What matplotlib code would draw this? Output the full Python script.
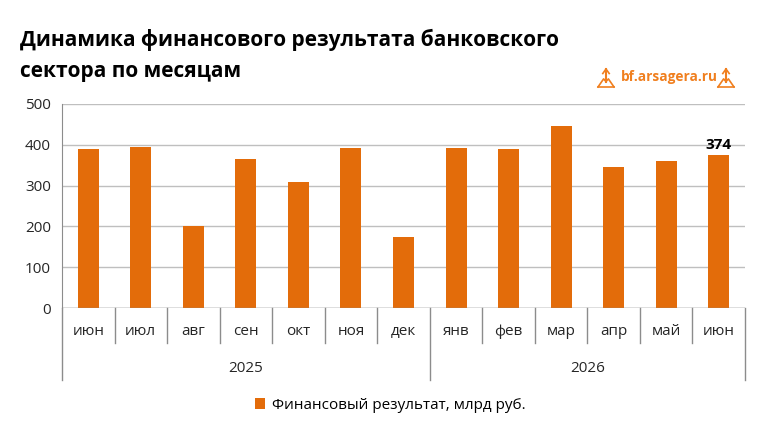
import matplotlib
matplotlib.use("Agg")
import matplotlib.pyplot as plt
import matplotlib.transforms as mtransforms

plt.rcParams['font.family'] = ['Open Sans', 'DejaVu Sans']

months = ['июн', 'июл', 'авг', 'сен', 'окт', 'ноя', 'дек',
          'янв', 'фев', 'мар', 'апр', 'май', 'июн']
years = ['2025', '2026']
year_sizes = [7, 6]
values = [390, 395, 201, 365, 309, 392, 174, 392, 390, 446, 346, 361, 374]

bar_color = '#E36C0A'
grid_color = '#BFBFBF'
axis_color = '#8C8C8C'
logo_color = '#F07F1E'

fig = plt.figure(figsize=(7.59, 4.36), dpi=100)
ax = fig.add_axes([62/759, 1-308/436, (745-62)/759, (308-104)/436])

x = list(range(len(months)))
ax.bar(x, values, width=0.4, color=bar_color, zorder=3,
       label='Финансовый результат, млрд руб.')
ax.set_xlim(-0.5, len(months) - 0.5)
ax.set_ylim(0, 500)
ax.set_yticks([0, 100, 200, 300, 400, 500])
ax.yaxis.grid(True, color=grid_color, linewidth=1, zorder=0)
ax.tick_params(axis='y', length=0, labelsize=11, colors='#262626', pad=8)
ax.set_xticks([])
for s in ['top', 'right', 'bottom']:
    ax.spines[s].set_visible(False)
ax.spines['left'].set_color(axis_color)
ax.axhline(0, color=axis_color, linewidth=1, zorder=4)

# data label on last bar
ax.text(x[-1], values[-1] + 8, str(values[-1]), ha='center', va='bottom',
        fontsize=11, fontweight='bold', color='#000000')

# category axis: month row and year row with separators
trans = mtransforms.blended_transform_factory(ax.transData, ax.transAxes)
month_row = -35/204
year_row = -72/204
for i, m in enumerate(months):
    ax.text(i, -23/204, m, transform=trans, ha='center', va='center',
            fontsize=11, color='#262626')
boundaries = [0]
for n in year_sizes:
    boundaries.append(boundaries[-1] + n)
for i in range(len(months) + 1):
    bottom = year_row if i in boundaries else month_row
    ax.plot([i - 0.5, i - 0.5], [0, bottom], transform=trans,
            color=axis_color, linewidth=1, clip_on=False)
for k, yr in enumerate(years):
    c = (boundaries[k] + boundaries[k+1] - 1) / 2
    ax.text(c, -60/204, yr, transform=trans, ha='center', va='center',
            fontsize=11, color='#262626')

# title
fig.text(20/759, 1-40/436, 'Динамика финансового результата банковского',
         fontsize=15, fontweight='bold', ha='left', va='center', color='#000000')
fig.text(20/759, 1-72/436, 'сектора по месяцам',
         fontsize=15, fontweight='bold', ha='left', va='center', color='#000000')

# logo
fig.text(669/759, 1-77/436, 'bf.arsagera.ru', fontsize=9.8, fontweight='bold',
         ha='center', va='center', color=logo_color)
for cx in [606, 726]:
    fx, fy = cx/759, 1-78/436
    dx, dy = 8/759, 9/436
    fig.add_artist(plt.Line2D([fx, fx], [fy - dy*0.4, fy + dy], color=logo_color, lw=1.5))
    fig.add_artist(plt.Line2D([fx - dx*0.4, fx, fx + dx*0.4], [fy + dy*0.5, fy + dy, fy + dy*0.5],
                              color=logo_color, lw=1.2))
    fig.add_artist(plt.Line2D([fx - dx, fx - dx*0.3, fx, fx + dx*0.3, fx + dx],
                              [fy - dy, fy - dy*0.1, fy - dy*0.4, fy - dy*0.1, fy - dy],
                              color=logo_color, lw=1.2))
    fig.add_artist(plt.Line2D([fx - dx, fx + dx], [fy - dy, fy - dy],
                              color=logo_color, lw=1.2))

# legend
leg = fig.legend(loc='center', bbox_to_anchor=(390/759, 1-405/436), frameon=False,
                 fontsize=11, handlelength=0.7, handleheight=0.7, handletextpad=0.4)

fig.savefig('out.png', dpi=100)
